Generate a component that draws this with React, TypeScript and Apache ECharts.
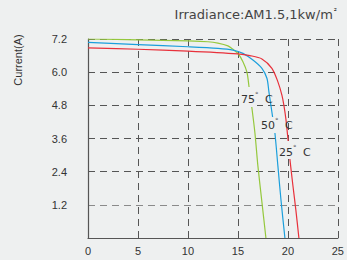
import React, { useEffect, useRef } from "react";
import * as echarts from "echarts";

const xTicks = [0, 5, 10, 15, 20, 25];
const yTicks = [1.2, 2.4, 3.6, 4.8, 6.0, 7.2];

const curve75: [number, number][] = [
  [0, 7.2], [5, 7.17], [10, 7.13], [12, 7.1], [13, 7.05], [14, 6.95], [14.5, 6.83],
  [15, 6.68], [15.5, 6.38], [15.9, 6.0], [16.1, 5.5], [16.4, 4.7], [16.7, 3.8],
  [17.0, 2.6], [17.4, 1.3], [17.8, 0],
];
const curve50: [number, number][] = [
  [0, 7.08], [5, 7.0], [10, 6.92], [13, 6.86], [14.5, 6.8], [15.5, 6.68], [16.5, 6.44],
  [17.4, 6.14], [17.9, 5.78], [18.1, 5.29], [18.3, 4.8], [18.5, 4.3], [18.7, 3.8],
  [19.0, 2.6], [19.3, 1.4], [19.7, 0],
];
const curve25: [number, number][] = [
  [0, 6.88], [5, 6.83], [10, 6.76], [15, 6.66], [16.2, 6.6], [17.4, 6.48], [18.4, 6.14],
  [19.0, 5.65], [19.4, 5.17], [19.6, 4.8], [19.8, 4.3], [20.0, 3.6], [20.2, 2.85],
  [20.5, 1.9], [20.8, 1.0], [21.1, 0],
];
const tempLabels = ["75", "50", "25"];

const BG = "#eef0f0";

export default function App() {
  const ref = useRef<HTMLDivElement>(null);
  useEffect(() => {
    if (!ref.current) return;
    const chart = echarts.init(ref.current, null, { renderer: "svg" });
    const grid = "#555";
    const mkLabel = (t: string, x: number, y: number, box: number[]) => ({
      type: "group",
      z: 100,
      children: [
        { type: "rect", shape: { x: box[0], y: box[1], width: box[2], height: box[3] }, style: { fill: BG }, z: 100 },
        {
          type: "text", x, y, z: 101,
          style: { text: t, font: "11px 'DejaVu Sans'", fill: "#333", verticalAlign: "middle" },
        },
        {
          type: "text", x: x + 14, y: y - 4, z: 101,
          style: { text: "°", font: "7px 'DejaVu Sans'", fill: "#555", verticalAlign: "middle" },
        },
        {
          type: "text", x: x + 24, y, z: 101,
          style: { text: "C", font: "11px 'DejaVu Sans'", fill: "#333", verticalAlign: "middle" },
        },
      ],
    });
    chart.setOption({
      animation: false,
      backgroundColor: BG,
      grid: { left: 88, right: 9, top: 39, bottom: 22 },
      xAxis: {
        type: "value",
        min: 0,
        max: 25,
        interval: 5,
        axisLine: { show: true, lineStyle: { color: grid, width: 1.2 } },
        axisTick: { show: false },
        axisLabel: { color: "#333", fontSize: 11, fontFamily: "'Liberation Sans', Arial", margin: 7, formatter: (v: number) => (xTicks.includes(v) ? String(v) : "") },
        splitLine: { show: true, lineStyle: { color: grid, type: [7, 5], width: 1 } },
      },
      yAxis: {
        type: "value",
        min: 0,
        max: 7.2,
        interval: 1.2,
        axisLine: { show: true, lineStyle: { color: grid, width: 1.2 } },
        axisTick: { show: false },
        axisLabel: {
          color: "#333", fontSize: 11, fontFamily: "'Liberation Sans', Arial", margin: 21,
          formatter: (v: number) => (yTicks.some((t) => Math.abs(t - v) < 1e-6) ? v.toFixed(1) : ""),
        },
        splitLine: { show: true, lineStyle: { color: [grid, "#8a8a8a", grid, grid, grid, grid, grid], type: [7, 5], width: 1 } },
      },
      series: [
        { type: "line", data: curve75, smooth: 0.3, showSymbol: false, lineStyle: { color: "#95c83d", width: 1.2 } },
        { type: "line", data: curve50, smooth: 0.3, showSymbol: false, lineStyle: { color: "#1b9fdc", width: 1.2 } },
        { type: "line", data: curve25, smooth: 0.3, showSymbol: false, lineStyle: { color: "#e8313b", width: 1.2 } },
      ],
      graphic: [
        {
          type: "text", right: 10, top: 7, z: 100,
          style: {
            text: "{a|Irradiance:AM1.5,1kw/m}{b|²}",
            rich: {
              a: { font: "13px 'DejaVu Sans'", fill: "#444", color: "#444" },
              b: { font: "8px 'DejaVu Sans'", color: "#444", verticalAlign: "top", padding: [0, 0, 6, 1] },
            },
          },
        },
        {
          type: "text", x: 18, y: 60, rotation: Math.PI / 2, z: 100,
          style: { text: "Current(A)", font: "11px 'Liberation Sans', Arial", fill: "#333", align: "center", verticalAlign: "middle" },
        },
        mkLabel(tempLabels[0], 241, 99, [240, 87, 17, 20]),
        mkLabel(tempLabels[1], 261, 125, [260, 117, 16, 16]),
        mkLabel(tempLabels[2], 279, 152, [278, 141, 16, 18]),
      ],
    });
    return () => chart.dispose();
  }, []);
  return <div ref={ref} style={{ width: 347, height: 260, position: "absolute", left: 0, top: 0 }} />;
}
